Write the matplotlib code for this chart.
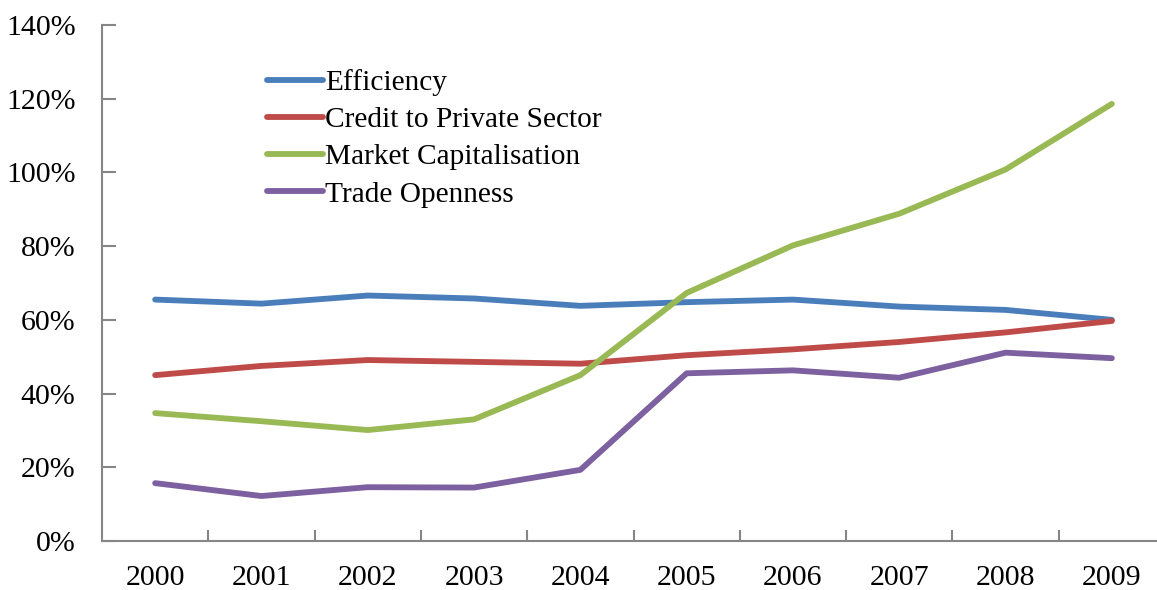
import matplotlib
matplotlib.use("Agg")
import matplotlib.pyplot as plt
from matplotlib.ticker import FixedLocator, PercentFormatter

years = ["2000", "2001", "2002", "2003", "2004", "2005", "2006", "2007", "2008", "2009"]
efficiency = [65.5, 64.4, 66.6, 65.8, 63.8, 64.8, 65.5, 63.6, 62.7, 60.0]
credit = [45.0, 47.5, 49.1, 48.6, 48.1, 50.4, 52.0, 54.0, 56.6, 59.7]
market_cap = [34.7, 32.5, 30.1, 33.0, 45.0, 67.3, 80.2, 88.8, 100.8, 118.6]
trade = [15.7, 12.2, 14.6, 14.5, 19.3, 45.5, 46.3, 44.3, 51.1, 49.6]
series_names = ["Efficiency", "Credit to Private Sector", "Market Capitalisation", "Trade Openness"]
colors = ["#4A7EBB", "#BE4B48", "#98B954", "#7D60A0"]
y_ticks = [0, 20, 40, 60, 80, 100, 120, 140]

plt.rcParams['font.family'] = ['Liberation Serif', 'DejaVu Serif']

fig = plt.figure(figsize=(11.57, 5.90), dpi=100)
ax = fig.add_axes([102/1157, 49/590, 1063/1157, 516/590])

x = list(range(len(years)))
for vals, name, c in zip([efficiency, credit, market_cap, trade], series_names, colors):
    ax.plot(x, vals, color=c, lw=4.2, label=name, solid_capstyle='round', solid_joinstyle='round')

ax.set_xlim(-0.5, len(years) - 0.5)
ax.set_ylim(0, 140)
ax.set_yticks(y_ticks)
ax.yaxis.set_major_formatter(PercentFormatter(decimals=0))
ax.set_xticks(x)
ax.set_xticklabels(years)
ax.xaxis.set_minor_locator(FixedLocator([i + 0.5 for i in range(len(years))]))

for s in ['top', 'right']:
    ax.spines[s].set_visible(False)
for s in ['left', 'bottom']:
    ax.spines[s].set_color('#868686')
    ax.spines[s].set_linewidth(1.5)

ax.tick_params(axis='x', which='major', length=0, pad=17, labelsize=21.5)
ax.tick_params(axis='x', which='minor', direction='in', length=8, width=1.5, color='#868686')
ax.tick_params(axis='y', which='major', direction='in', length=10, width=1.5, color='#868686',
               pad=19, labelsize=21.5)

leg = ax.legend(loc='upper left', bbox_to_anchor=(165/1063, 1 - 44/516), frameon=False,
                fontsize=21.2, handlelength=1.9, handletextpad=0.08, labelspacing=0.36,
                borderaxespad=0, borderpad=0)

fig.savefig("out.png", dpi=100)
